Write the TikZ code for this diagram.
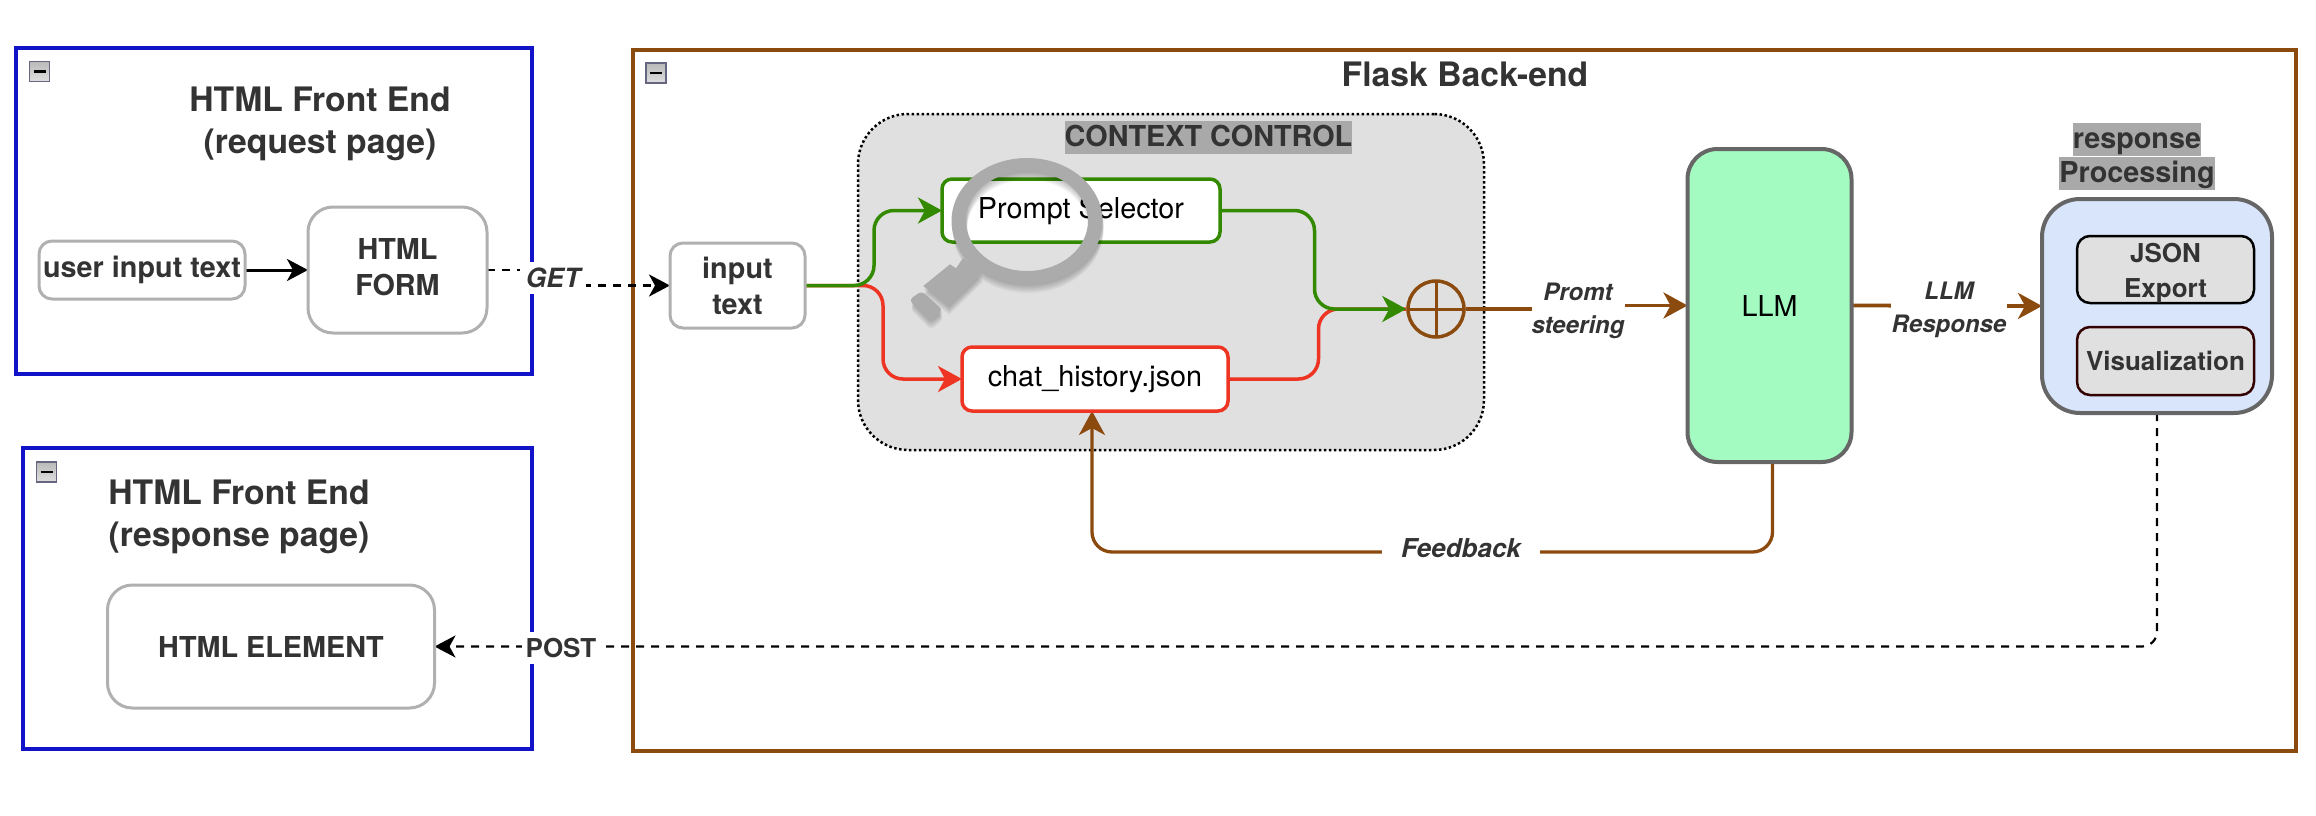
\documentclass[tikz,border=0pt]{standalone}
\usepackage{fontspec}
\setmainfont{TeX Gyre Heros}
\usetikzlibrary{arrows.meta}
\definecolor{fblue}{HTML}{1212C8}
\definecolor{fbrown}{HTML}{8B4A0E}
\definecolor{txt}{HTML}{333333}
\definecolor{boxgrey}{HTML}{B0B0B0}
\definecolor{hl}{HTML}{A9A9A9}
\definecolor{ctxfill}{HTML}{E0E0E0}
\definecolor{fgreen}{HTML}{338A00}
\definecolor{fred}{HTML}{EE3524}
\definecolor{llmfill}{HTML}{A3FBC2}
\definecolor{respfill}{HTML}{D8E5FB}
\definecolor{edge}{HTML}{666666}
\definecolor{ringgrey}{HTML}{ABABAB}
\pgfdeclarelayer{bg}
\pgfdeclarelayer{conn}
\pgfsetlayers{bg,conn,main}
\newcommand{\hlline}[1]{{\fboxsep=0pt\colorbox{hl}{\rule[-8pt]{0pt}{33pt}#1}}}
\tikzset{
  boxbase/.style={inner sep=0pt,outer sep=0pt,align=center,text=txt},
  frameblue/.style={boxbase,draw=fblue,line width=4pt},
  framebrown/.style={boxbase,draw=fbrown,line width=4pt},
  greybox/.style={boxbase,draw=boxgrey,line width=3pt,fill=white,font=\bfseries\fontsize{28.8}{36}\selectfont},
  title/.style={boxbase,font=\bfseries\fontsize{33.7}{42}\selectfont},
  lab/.style={boxbase,fill=white,font=\bfseries\itshape\fontsize{24}{33}\selectfont},
  dlab/.style={boxbase,fill=white,font=\bfseries\fontsize{26}{33}\selectfont},
  hltitle/.style={boxbase,font=\bfseries\fontsize{28.8}{34}\selectfont},
  plain/.style={boxbase,text=black,fill=white,line width=3.5pt,font=\fontsize{28.8}{35}\selectfont},
  inner/.style={boxbase,fill=ctxfill,line width=2.5pt,font=\bfseries\fontsize{26}{35}\selectfont},
  icon/.style={inner sep=0pt,minimum size=20pt,draw=black!45!blue!20!gray,line width=1.5pt,top color=gray!55,bottom color=gray!25,
    path picture={\draw[black,line width=2.5pt] ([xshift=-6pt]path picture bounding box.center) -- ([xshift=6pt]path picture bounding box.center);}},
  tip/.style={-{Stealth[length=21pt,width=22pt,inset=6pt]}},
  bigtip/.style={-{Stealth[length=24pt,width=26pt,inset=7pt]}},
  flow/.style={line width=3.5pt,rounded corners=20pt},
  dline/.style={black,line width=2.2pt,dash pattern=on 8pt off 7pt},
}
\begin{document}
\begin{tikzpicture}[x=1pt,y=-1pt]
\useasboundingbox (0,0) rectangle (2316,816);
\begin{pgfonlayer}{bg}
  \node[frameblue,minimum width=516pt,minimum height=326pt] (req) at (274,211) {};
  \node[frameblue,minimum width=509pt,minimum height=301pt] (res) at (277.5,598.5) {};
  \node[framebrown,minimum width=1663pt,minimum height=701pt] (flask) at (1464.5,400.5) {};
  \node[boxbase,draw=black,fill=ctxfill,line width=2.5pt,dash pattern=on 2.5pt off 2.5pt,rounded corners=50pt,minimum width=626pt,minimum height=336pt] (ctx) at (1171,282) {};
\end{pgfonlayer}

\node[icon] (i1) at (39.5,71.5) {};
\node[icon] (i2) at (46.5,472) {};
\node[icon] (i3) at (656,73) {};

\node[title] (t1) at (320,123.5) {HTML Front End\\(request page)};
\node[title] (t2) at (239,516.5) {HTML Front End\\(response page)};
\node[title] (t3) at (1465,74) {Flask Back-end};

\node[greybox,rounded corners=13pt,minimum width=206pt,minimum height=58pt] (user) at (142,270) {user input text};
\node[greybox,rounded corners=25pt,minimum width=179pt,minimum height=126pt] (form) at (397.5,270) {HTML\\FORM\rule[-6pt]{0pt}{1pt}};
\node[greybox,rounded corners=25pt,minimum width=327pt,minimum height=123pt] (elem) at (271,646.5) {HTML ELEMENT};
\node[greybox,rounded corners=13pt,minimum width=135pt,minimum height=85pt] (input) at (737.5,285.5) {input\\text};

\node[hltitle] (cc) at (1208.5,137.5) {\hlline{CONTEXT CONTROL}};
\node[plain,draw=fgreen,rounded corners=10pt,minimum width=278pt,minimum height=63pt] (prompt) at (1081,210.5) {Prompt Selector};
\node[plain,draw=fred,rounded corners=10pt,minimum width=266pt,minimum height=64pt] (chat) at (1095,379) {chat\_history.json};
\node[circle,draw=fbrown,line width=3.5pt,inner sep=0pt,minimum size=56pt,
  path picture={\draw[fbrown,line width=3pt] (path picture bounding box.north) -- (path picture bounding box.south) (path picture bounding box.west) -- (path picture bounding box.east);}] (sum) at (1436,309) {};

\node[plain,draw=edge,fill=llmfill,line width=4pt,rounded corners=30pt,minimum width=164pt,minimum height=313pt] (llm) at (1769.5,305.5) {LLM};
\node[boxbase,draw=edge,fill=respfill,line width=4pt,rounded corners=38pt,minimum width=230pt,minimum height=214pt] (resp) at (2157,306) {};
\node[hltitle] (rp) at (2137,156.5) {\hlline{response}\\\hlline{Processing}};
\node[inner,draw=black,rounded corners=13pt,minimum width=177pt,minimum height=67pt] (json) at (2165.5,269.5) {\rule{0pt}{26pt}JSON\\Export};
\node[inner,draw=black!80!red,rounded corners=13pt,minimum width=177pt,minimum height=68pt] (vis) at (2165.5,361) {Visualization};

\node[boxbase,fill=white,font=\bfseries\itshape\fontsize{26.5}{33}\selectfont,minimum width=66pt,minimum height=32pt] (get) at (553,278) {GET};
\node[dlab,minimum width=78pt,minimum height=32pt] (post) at (561,648) {POST};
\node[lab,minimum width=93pt] (promt) at (1578,311) {Promt\\steering};
\node[lab,minimum width=116pt] (llmr) at (1949,310) {LLM\\Response};
\node[boxbase,fill=white,font=\bfseries\itshape\fontsize{26}{33}\selectfont,minimum width=158pt,minimum height=36pt] (fb) at (1461,548) {Feedback};

\coordinate (gjunc) at (874,0);
\coordinate (rjunc) at (883,0);
\coordinate (gmerge) at (1314.5,0);
\coordinate (rmerge) at (1318.5,0);
\coordinate (fbrow) at (0,552);
\coordinate (fbstart) at ([xshift=3pt]llm.south);
\coordinate (fbend) at ([xshift=-3pt]chat.south);

\begin{pgfonlayer}{conn}
  \draw[tip,black,line width=3pt] (user) -- (form);
  \draw[dline] (form.east) -- (form.east -| get) -- (get |- input.west);
  \draw[dline,tip] (get |- input.west) -- (input.west);
  \draw[dline,tip,rounded corners=15pt] (resp.south) -- (resp.south |- elem.east) -- (elem.east);
  \draw[flow,draw=fred,fill=none,bigtip] (input.east) -- (input.east -| rjunc) -- (rjunc |- chat.west) -- (chat.west);
  \draw[flow,draw=fred] (chat.east) -- (chat.east -| rmerge) -- (rmerge |- sum.west) -- (sum.west);
  \draw[flow,draw=fgreen,bigtip] (input.east) -- (input.east -| gjunc) -- (gjunc |- prompt.west) -- (prompt.west);
  \draw[flow,draw=fgreen,bigtip] (prompt.east) -- (prompt.east -| gmerge) -- (gmerge |- sum.west) -- (sum.west);
  \draw[fbrown,line width=3.8pt] (sum.east) -- (sum.east -| promt) -- (promt |- llm.west);
  \draw[fbrown,line width=3.8pt,bigtip] (promt |- llm.west) -- (llm.west);
  \draw[fbrown,line width=3.8pt,bigtip] (llm.east) -- (resp.west);
  \draw[fbrown,line width=3.3pt,rounded corners=20pt,bigtip] (fbstart) -- (fbstart |- fbrow) -- (fbend |- fbrow) -- (fbend);
\end{pgfonlayer}

% magnifying glass (drawn over the Prompt Selector box)
\foreach \dy in {1.5,3,...,9}{
  \begin{scope}[yshift=-\dy pt,xshift=1pt,opacity=0.045]
    \fill[black,even odd rule] (1027,221) ellipse [x radius=75.5,y radius=63] (1027,221) ellipse [x radius=61,y radius=50];
    \fill[black] (963,258) -- (956,268.3) -- (950,264.3) -- (923.3,286) -- (948.3,305.7) -- (970.7,284) -- (981.7,273.3) -- cycle;
    \fill[black,rounded corners=4pt] (921.7,291) -- (909,300) -- (930,321) -- (942.7,310) -- cycle;
  \end{scope}
}
\fill[ringgrey,even odd rule] (1027,221) ellipse [x radius=75.5,y radius=63] (1027,221) ellipse [x radius=61,y radius=50];
\fill[ringgrey] (963,258) -- (956,268.3) -- (950,264.3) -- (923.3,286) -- (948.3,305.7) -- (970.7,284) -- (981.7,273.3) -- cycle;
\fill[ringgrey,rounded corners=4pt] (921.7,291) -- (909,300) -- (930,321) -- (942.7,310) -- cycle;
\end{tikzpicture}
\end{document}
